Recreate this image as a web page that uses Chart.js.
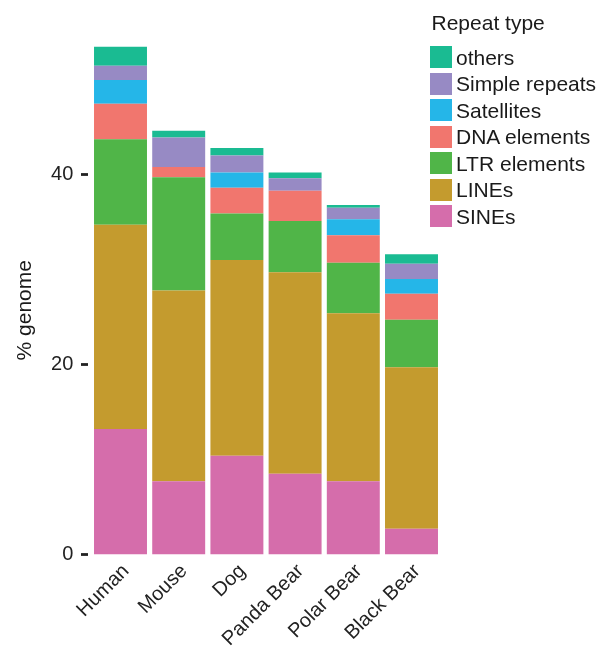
<!DOCTYPE html>
<html>
<head>
<meta charset="utf-8">
<script src="https://cdn.jsdelivr.net/npm/chart.js@4.4.1/dist/chart.umd.min.js"></script>
<style>
  html, body { margin: 0; padding: 0; background: #ffffff; }
  #wrap { position: relative; width: 600px; height: 652px; }
  #legend { position: absolute; left: 430px; top: 0; font-family: "Liberation Sans", Arial, sans-serif; color: #1a1a1a; }
  #legend .title { position: absolute; left: 1.5px; top: 11.5px; font-size: 21px; line-height: 21px; white-space: nowrap; }
  #legend .row { position: absolute; left: 0; height: 22px; display: flex; align-items: flex-start; white-space: nowrap; }
  #legend .box { width: 22px; height: 22px; flex: none; }
  #legend .lab { margin-left: 4px; font-size: 21px; line-height: 22px; padding-top: 0.7px; }
</style>
</head>
<body>
<div id="wrap">
  <canvas id="c"></canvas>
  <div id="legend"></div>
</div>
<script>
// ---- data ----
const species = ["Human", "Mouse", "Dog", "Panda Bear", "Polar Bear", "Black Bear"];
const repeatTypes = ["SINEs", "LINEs", "LTR elements", "DNA elements", "Satellites", "Simple repeats", "others"];
const sines         = [13.2,  7.7, 10.4,  8.5,  7.7,  2.7];
const lines         = [21.5, 20.1, 20.6, 21.2, 17.7, 17.0];
const ltrElements   = [ 9.0, 11.9,  4.9,  5.4,  5.3,  5.0];
const dnaElements   = [3.75,  1.1,  2.7,  3.2,  2.9, 2.75];
const satellites    = [ 2.5,  0.0,  1.6,  0.0,  1.7, 1.55];
const simpleRepeats = [ 1.5,  3.1,  1.8,  1.3,  1.2,  1.6];
const others        = [ 2.0,  0.7,  0.8,  0.6,  0.3,  1.0];
const yTicks = [0, 20, 40];
const yTitle = "% genome";
const legendTitle = "Repeat type";

// ---- styles ----
const seriesValues = [sines, lines, ltrElements, dnaElements, satellites, simpleRepeats, others];
const seriesColors = ["#D56DAB", "#C49B2E", "#50B548", "#F1766E", "#25B6E8", "#978AC4", "#1ABB92"];
const FONT = "'Liberation Sans', Arial, sans-serif";
Chart.defaults.font.family = FONT;

const datasets = repeatTypes.map((name, i) => ({
  label: name,
  data: seriesValues[i],
  backgroundColor: seriesColors[i],
  borderWidth: 0,
  categoryPercentage: 1.0,
  barPercentage: 0.91
}));

const decorations = {
  id: 'decorations',
  afterDraw(chart) {
    const ctx = chart.ctx;
    const ys = chart.scales.y;
    const area = chart.chartArea;
    ctx.save();
    ctx.strokeStyle = '#222222';
    ctx.lineWidth = 2.8;
    yTicks.forEach(v => {
      const py = ys.getPixelForValue(v);
      ctx.beginPath();
      ctx.moveTo(area.left - 10.4, py);
      ctx.lineTo(area.left - 3.4, py);
      ctx.stroke();
    });
    // y axis title
    ctx.fillStyle = '#1a1a1a';
    ctx.font = '21px ' + FONT;
    ctx.textAlign = 'center';
    ctx.textBaseline = 'alphabetic';
    ctx.translate(31, (ys.getPixelForValue(0) + area.top) / 2 + 17);
    ctx.rotate(-Math.PI / 2);
    ctx.fillText(yTitle, 0, 0);
    ctx.restore();
  }
};

new Chart(document.getElementById('c'), {
  type: 'bar',
  data: { labels: species, datasets: datasets },
  options: {
    responsive: true,
    maintainAspectRatio: false,
    animation: false,
    devicePixelRatio: 1,
    layout: { padding: { left: 0, right: 159.4, top: 32, bottom: 0 } },
    plugins: { legend: { display: false }, tooltip: { enabled: false } },
    scales: {
      x: {
        stacked: true,
        grid: { display: false },
        border: { display: false },
        ticks: {
          color: '#222222',
          font: { size: 20 },
          maxRotation: 45,
          minRotation: 45,
          padding: -3,
          labelOffset: 5.5,
          autoSkip: false
        },
        afterFit(scale) { scale.height = 97.5; }
      },
      y: {
        stacked: true,
        min: 0,
        max: 55,
        grid: { display: false },
        border: { display: false },
        ticks: {
          color: '#222222',
          font: { size: 20 },
          padding: 10.1,
          stepSize: 20
        },
        afterBuildTicks(scale) { scale.ticks = yTicks.map(v => ({ value: v })); },
        afterFit(scale) { scale.width = 91.4; }
      }
    }
  },
  plugins: [decorations]
});

// ---- legend (HTML, real text) ----
const legend = document.getElementById('legend');
const t = document.createElement('div');
t.className = 'title';
t.textContent = legendTitle;
legend.appendChild(t);
for (let k = 0; k < repeatTypes.length; k++) {
  const i = repeatTypes.length - 1 - k;
  const row = document.createElement('div');
  row.className = 'row';
  row.style.top = (46 + k * 26.5) + 'px';
  const box = document.createElement('div');
  box.className = 'box';
  box.style.background = seriesColors[i];
  const lab = document.createElement('span');
  lab.className = 'lab';
  lab.textContent = repeatTypes[i];
  row.appendChild(box);
  row.appendChild(lab);
  legend.appendChild(row);
}
</script>
</body>
</html>
